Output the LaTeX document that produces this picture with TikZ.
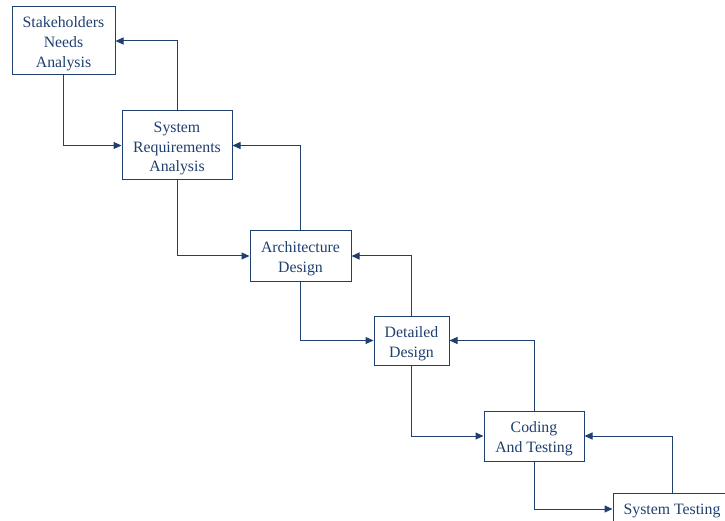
\documentclass[tikz,border=0pt]{standalone}
\usepackage{fontspec}
\setmainfont{Liberation Serif}
\usetikzlibrary{arrows.meta}
\definecolor{navy}{HTML}{1F3F6F}
\begin{document}
\begin{tikzpicture}[x=1pt,y=-1pt,
  box/.style={draw=navy,line width=1pt,inner sep=0pt},
  txt/.style={text=navy,align=center,inner sep=0pt,yshift=-3pt,
    font=\fontsize{15.8}{19.8}\selectfont},
  conn/.style={draw=navy,line width=1pt,-{Triangle[length=8pt,width=7pt]}}]
\useasboundingbox (0,0) rectangle (725,521);
\clip (0,0) rectangle (725,521);
\node[box,minimum width=103pt,minimum height=68pt] (b1) at (63.5,41) {};
\node[txt] (t1) at (b1.center) {Stakeholders\\Needs\\Analysis};
\node[box,minimum width=110pt,minimum height=69pt] (b2) at (177,145.5) {};
\node[txt] (t2) at (b2.center) {System\\Requirements\\Analysis};
\node[box,minimum width=101pt,minimum height=50pt] (b3) at (300.5,256) {};
\node[txt] (t3) at (b3.center) {Architecture\\Design};
\node[box,minimum width=75pt,minimum height=49pt] (b4) at (411.5,340.5) {};
\node[txt] (t4) at (b4.center) {Detailed\\Design};
\node[box,minimum width=100pt,minimum height=50pt] (b5) at (534,436) {};
\node[txt] (t5) at (b5.center) {Coding\\And Testing};
\node[box,minimum width=118pt,minimum height=32pt] (b6) at (672,509) {};
\node[txt,yshift=1pt] (t6) at (b6.center) {System Testing};
\draw[conn] (b1.south) |- (b2.west);
\draw[conn] (b2.north) |- (b1.east);
\draw[conn] (b2.south) |- (b3.west);
\draw[conn] (b3.north) |- (b2.east);
\draw[conn] (b3.south) |- (b4.west);
\draw[conn] (b4.north) |- (b3.east);
\draw[conn] (b4.south) |- (b5.west);
\draw[conn] (b5.north) |- (b4.east);
\draw[conn] (b5.south) |- (b6.west);
\draw[conn] (b6.north) |- (b5.east);
\end{tikzpicture}
\end{document}
